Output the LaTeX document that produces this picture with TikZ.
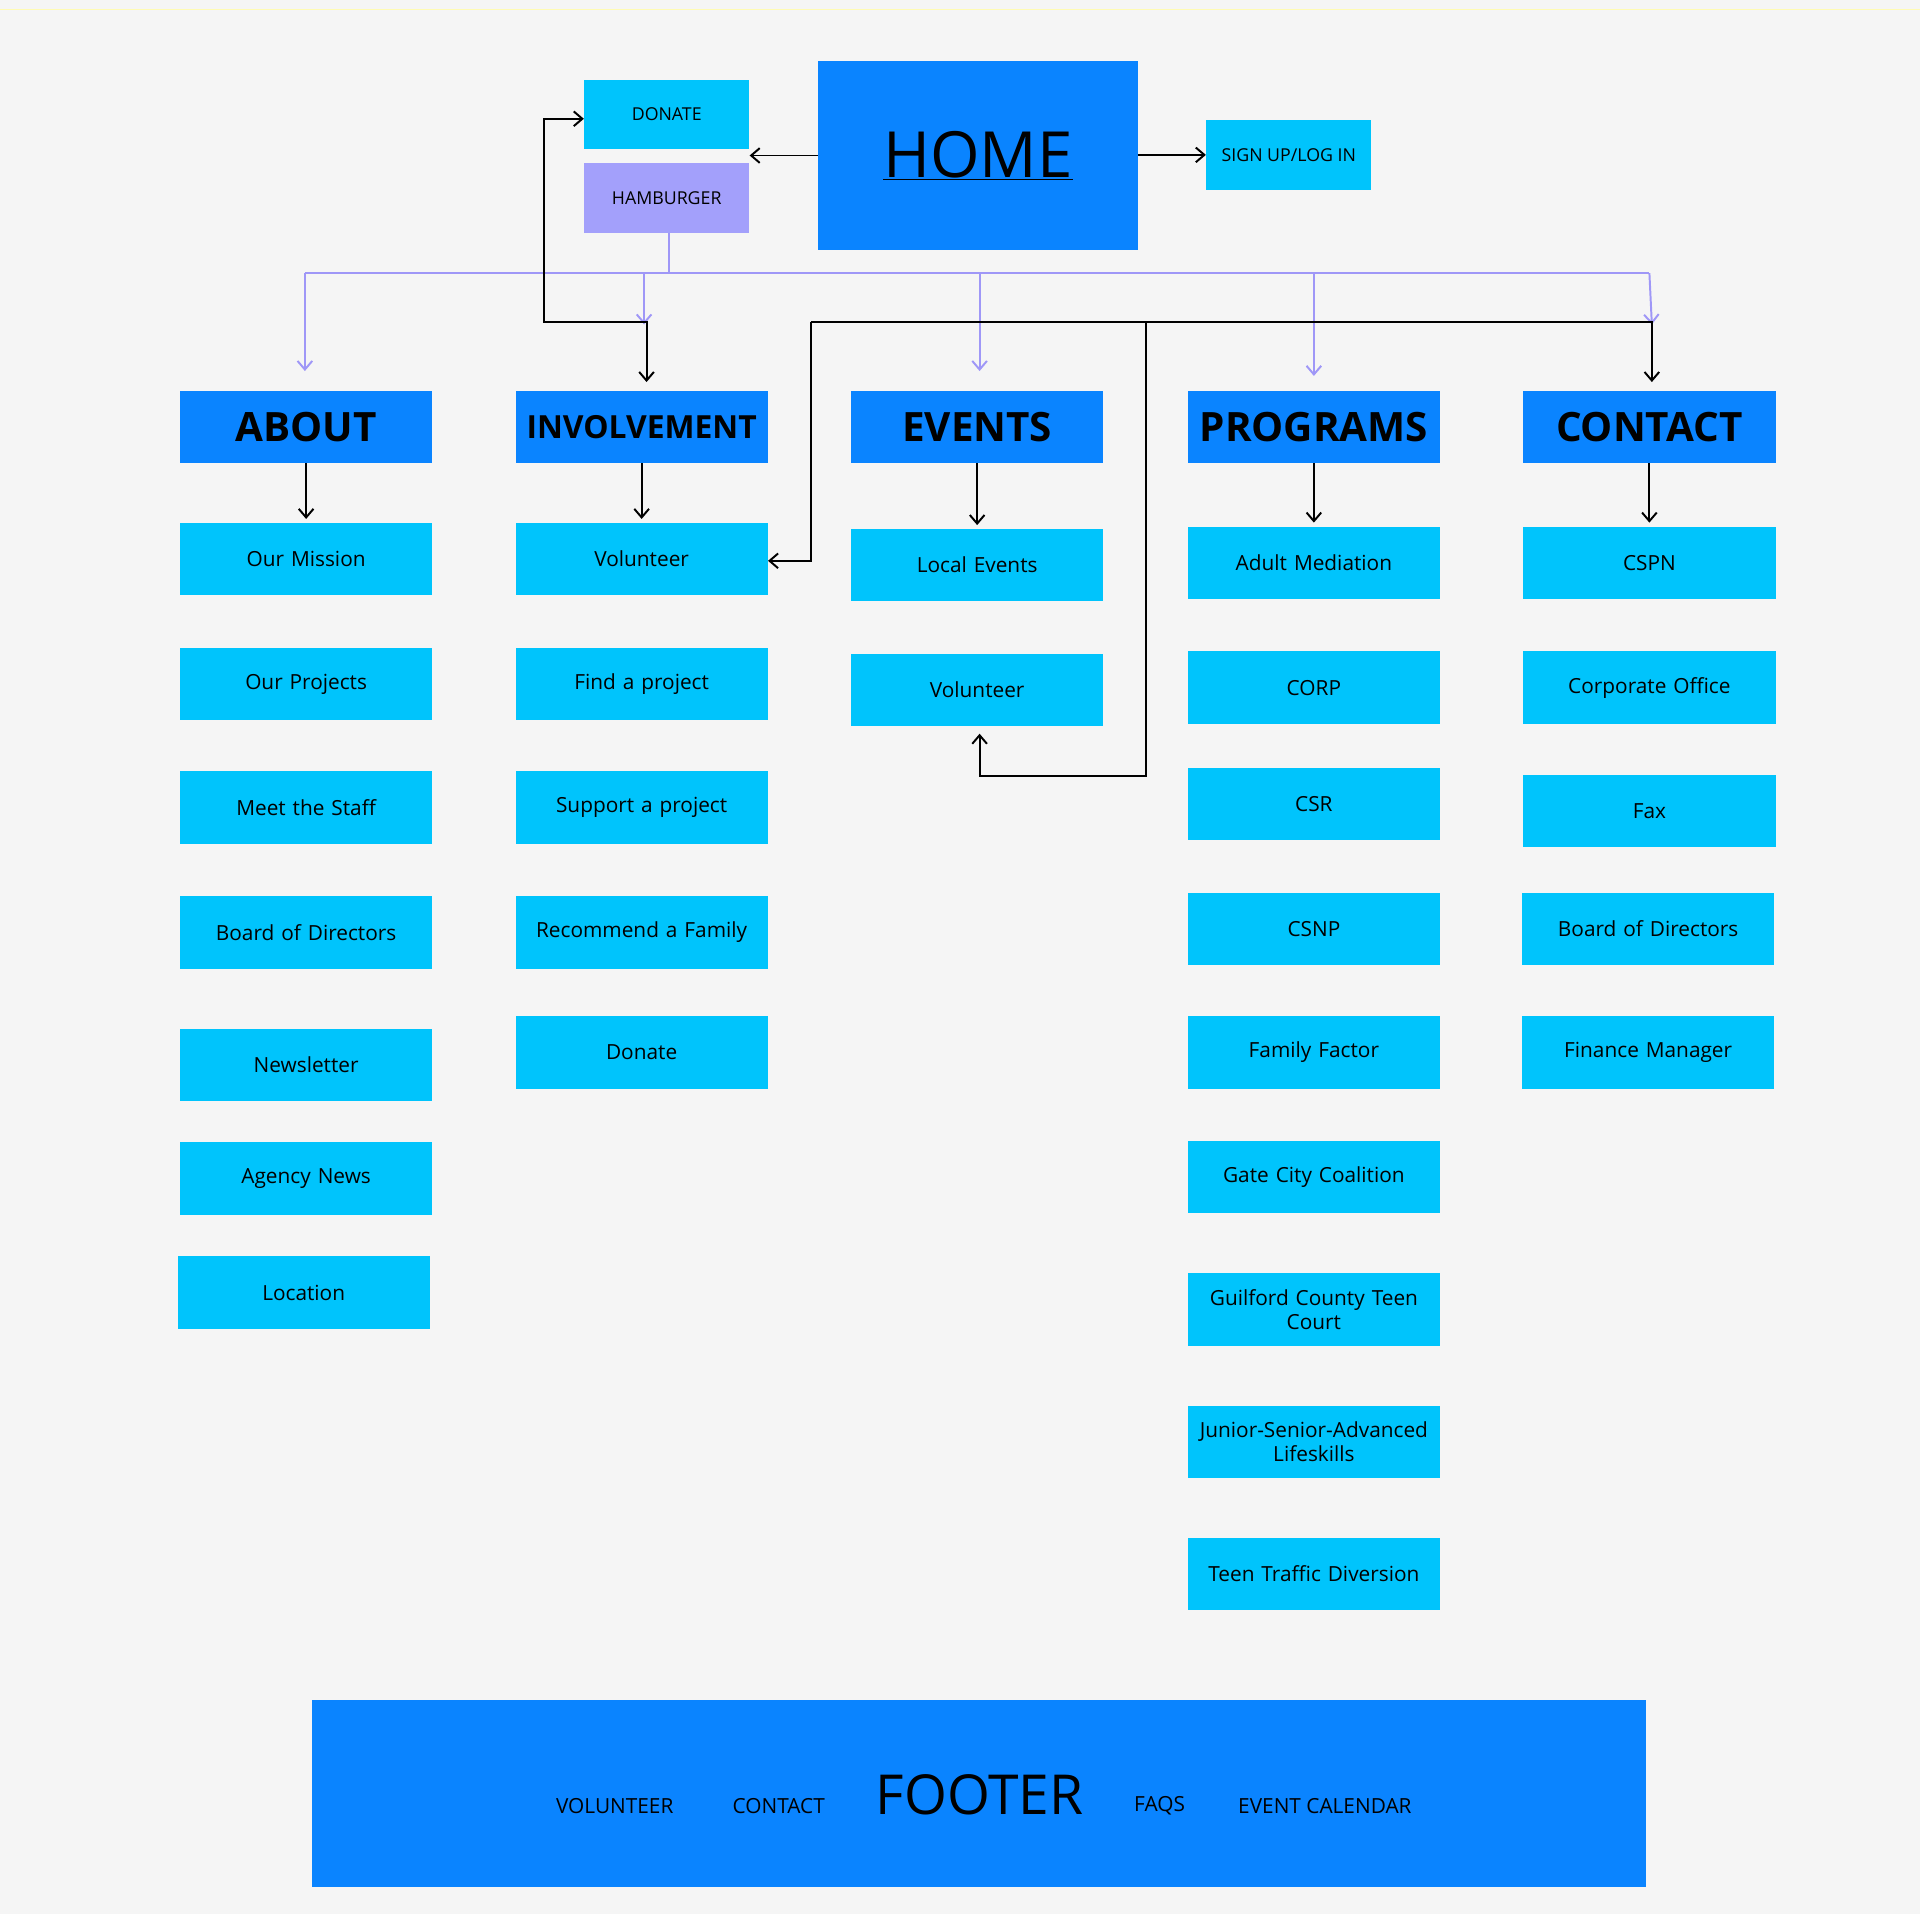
\documentclass[tikz,border=0pt]{standalone}
\usepackage{fontspec}
\setmainfont{Open Sans}
\usetikzlibrary{arrows.meta}
\definecolor{bg}{HTML}{F5F5F5}
\definecolor{dblue}{HTML}{0A84FF}
\definecolor{cyanb}{HTML}{00C4FC}
\definecolor{lav}{HTML}{A3A0FB}
\definecolor{pline}{HTML}{9F97F7}
\tikzset{
 item/.style={fill=cyanb,minimum width=206pt,minimum height=59pt,inner sep=0pt,text width=200pt,align=center,font=\fontsize{17}{20}\selectfont},
 head/.style={fill=dblue,minimum width=206pt,minimum height=59pt,inner sep=0pt,font=\fontsize{33}{36}\selectfont\bfseries},
 small/.style={minimum width=135pt,minimum height=57pt,inner sep=0pt,font=\fontsize{14.5}{16}\selectfont},
 blk/.style={draw=black,line width=1.6pt,-{Straight Barb[length=7pt,width=12pt]}},
 pur/.style={draw=pline,line width=1.6pt,-{Straight Barb[length=7pt,width=12pt]}},
 foot/.style={font=\fontsize{17}{20}\selectfont}
}
\begin{document}
\begin{tikzpicture}[x=1pt,y=-1pt]
\fill[bg] (0,0) rectangle (1568,1563);
\useasboundingbox (0,0) rectangle (1568,1563);
\draw[yellow!30,line width=1pt] (0,8) -- (1568,8);
% top
\node[fill=dblue,minimum width=261pt,minimum height=154pt,inner sep=0pt,font=\fontsize{52}{56}\selectfont] (home) at (798.5,127) {\underline{HOME}};
\node[small,fill=cyanb] (donate) at (544.5,93.5) {DONATE};
\node[small,fill=lav] (ham) at (544.5,161.5) {HAMBURGER};
\node[small,fill=cyanb] (sign) at (1052.5,126.5) {SIGN UP/LOG IN};
\draw[blk] (home.west) -- (donate.east |- home.west);
\draw[blk] (home.east |- sign) -- (sign.west);
% headers
\node[head] (h1) at (250,348.5) {ABOUT};
\node[head,font=\fontsize{26}{30}\selectfont\bfseries] (h2) at (524,348.5) {INVOLVEMENT};
\node[head] (h3) at (798,348.5) {EVENTS};
\node[head] (h4) at (1073,348.5) {PROGRAMS};
\node[head] (h5) at (1347,348.5) {CONTACT};
% items
\newcommand\itm[4]{\node[item] (#1) at (#2,#3+29.5) {#4};}
\itm{a1}{250}{427}{Our Mission}
\itm{a2}{250}{529}{Our Projects}
\itm{a3}{250}{630}{Meet the Staff}
\itm{a4}{250}{732}{Board of Directors}
\itm{a5}{250}{840}{Newsletter}
\itm{a6}{250}{933}{Agency News}
\itm{a7}{248}{1026}{Location}
\itm{b1}{524}{427}{Volunteer}
\itm{b2}{524}{529}{Find a project}
\itm{b3}{524}{630}{Support a project}
\itm{b4}{524}{732}{Recommend a Family}
\itm{b5}{524}{830}{Donate}
\itm{c1}{798}{432}{Local Events}
\itm{c2}{798}{534}{Volunteer}
\itm{d1}{1073}{430}{Adult Mediation}
\itm{d2}{1073}{532}{CORP}
\itm{d3}{1073}{627}{CSR}
\itm{d4}{1073}{729}{CSNP}
\itm{d5}{1073}{830}{Family Factor}
\itm{d6}{1073}{932}{Gate City Coalition}
\itm{d7}{1073}{1040}{Guilford County Teen\\Court}
\itm{d8}{1073}{1148}{Junior-Senior-Advanced\\Lifeskills}
\itm{d9}{1073}{1256}{Teen Traffic Diversion}
\itm{e1}{1347}{430}{CSPN}
\itm{e2}{1347}{532}{Corporate Office}
\itm{e3}{1347}{633}{Fax}
\itm{e4}{1346}{729}{Board of Directors}
\itm{e5}{1346}{830}{Finance Manager}
% header to first item
\foreach \h/\i in {h1/a1,h2/b1,h3/c1,h4/d1,h5/e1}
  \draw[blk] (\h.south) -- ([yshift=3pt]\i.north -| \h.south);
% purple
\coordinate (pj) at (546,223);
\draw[draw=pline,line width=1.6pt] (ham.south -| pj) -- (pj);
\draw[draw=pline,line width=1.6pt] (249,223) -- (1347,223);
\draw[pur] (249,223) -- (249,303);
\draw[pur] (526,223) -- (526,265);
\draw[pur] (800,223) -- (800,303);
\draw[pur] (1073,223) -- (1073,307);
\draw[pur] (1347,223) -- (1349,265);
% black routes
\draw[blk,{Straight Barb[length=7pt,width=12pt]}-{Straight Barb[length=7pt,width=12pt]}] (donate.west |- 0,97) -- (444,97) -- (444,263) -- (528,263) -- (528,312);
\draw[blk] (662,263) -- (662,458) -- (b1.east |- 0,458);
\draw[blk] (662,263) -- (1349,263) -- (1349,312);
\draw[blk] (936,263) -- (936,634) -- (800,634) -- ([yshift=-6pt]c2.south -| 800,0);
% footer
\node[fill=dblue,minimum width=1089pt,minimum height=153pt,inner sep=0pt] (footer) at (799.5,1464.5) {};
\node[font=\fontsize{45}{48}\selectfont] (ft) at (800,1466) {FOOTER};
\node[foot] (f1) at (502,1475) {VOLUNTEER};
\node[foot] (f2) at (636,1475) {CONTACT};
\node[foot] (f3) at (947,1475) {FAQS};
\node[foot] (f4) at (1082,1475) {EVENT CALENDAR};
\end{tikzpicture}
\end{document}
